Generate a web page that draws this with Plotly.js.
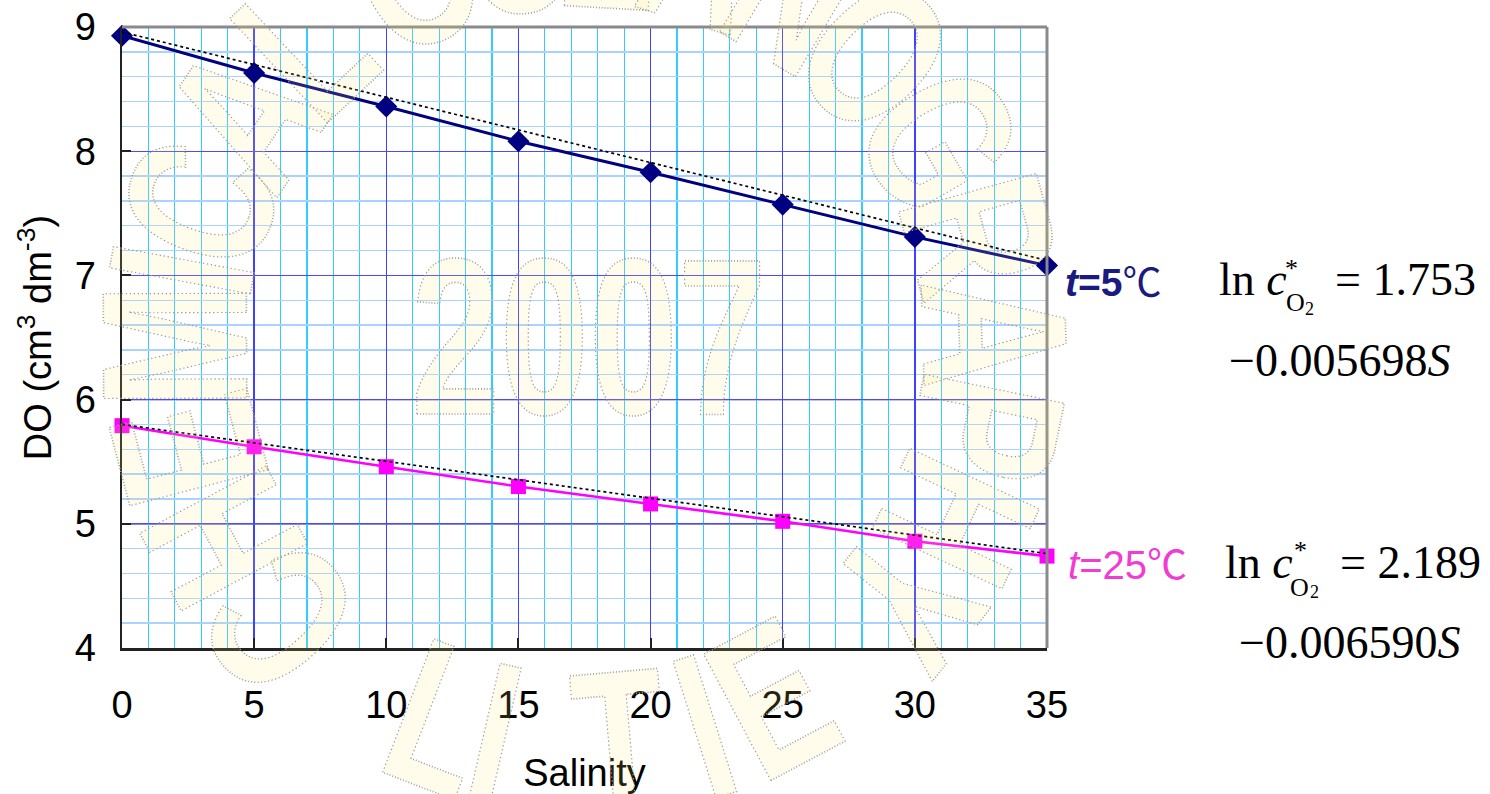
<!DOCTYPE html>
<html>
<head>
<meta charset="utf-8">
<script src="https://cdn.plot.ly/plotly-3.0.1.min.js"></script>
<style>
  html, body { margin: 0; padding: 0; background: #ffffff; }
  #chart { width: 1490px; height: 794px; }
</style>
</head>
<body>
<div id="chart"></div>
<script>
// Dissolved oxygen vs salinity at two temperatures
const salinity = [0, 5, 10, 15, 20, 25, 30, 35];
const doT5 = [8.93, 8.63, 8.36, 8.08, 7.83, 7.57, 7.31, 7.08];
const doT25 = [5.79, 5.62, 5.46, 5.30, 5.16, 5.02, 4.86, 4.74];

// straight trend lines through each series
const trendS = [0, 35];
const trendT5 = [8.96, 7.12];
const trendT25 = [5.80, 4.76];

const xTicks = [0, 5, 10, 15, 20, 25, 30, 35];
const yTicks = [4, 5, 6, 7, 8, 9];

// plot-area box in page pixels, used to place the free text
const L = 122, R = 1047, T = 27, B = 648;
const W = 1490, H = 794;
const px = X => (X - L) / (R - L);
const py = Y => (B - Y) / (B - T);

const traces = [
  {
    x: salinity, y: doT5, mode: 'lines+markers', cliponaxis: false,
    line: { color: '#000080', width: 3 },
    marker: { symbol: 'diamond', size: 17, color: '#000080' }
  },
  {
    x: salinity, y: doT25, mode: 'lines+markers', cliponaxis: false,
    line: { color: '#ff00ff', width: 2.6 },
    marker: { symbol: 'square', size: 15, color: '#ff00ff' }
  },
  {
    x: trendS, y: trendT5, mode: 'lines', cliponaxis: false,
    line: { color: '#000000', width: 1.7, dash: 'dot' }
  },
  {
    x: trendS, y: trendT25, mode: 'lines', cliponaxis: false,
    line: { color: '#000000', width: 1.7, dash: 'dot' }
  }
];

// faint "2007" seal with ring lettering laid over the plot
const sealFill = 'rgba(255,236,120,0.14)';
const sealEdge = 'stroke:#9b9b9b;stroke-width:1.6px;stroke-dasharray:1.3 2.7';
const sealFamily = 'Liberation Sans, Arial, sans-serif';
const sealSqueeze = 0.72;   // glyphs are drawn condensed
const sealCx = 585, sealCy = 345;
const ringLetters = ['C','H','E','M','I','C','A','L','O','C','E','A','N','O','G','R','A','P','H','Y'];
const ringAngles = [222, 208.1, 194.7, 180.2, 169.5, 159.9, 146, 133.2, 114.5, 100.1, 86.7, 73.3, 59.4, 45, 30, 15.6, 1.7, -11.7, -25.1, -38.5];
const baseLetters = ['L','I','T','I','E'];
const baseAngles = [249, 257, 275, 287.5, 298];

function norm(a) { a = ((a % 360) + 360) % 360; return a > 180 ? a - 360 : a; }
function sealLetter(ch, ang, r, outward) {
  const t = ang * Math.PI / 180;
  const X = sealCx + r * Math.cos(t), Y = sealCy - r * Math.sin(t);
  return {
    xref: 'paper', yref: 'paper', x: px(X), y: py(Y),
    xanchor: 'center', yanchor: 'middle', showarrow: false,
    textangle: norm(outward ? 90 - ang : -90 - ang),
    text: '<span style="' + sealEdge + '">' + ch + '</span>',
    font: { family: sealFamily, size: 208, color: sealFill, weight: 'bold' }
  };
}

const annotations = [];
annotations.push({
  xref: 'paper', yref: 'paper', x: px(589), y: py(337),
  xanchor: 'center', yanchor: 'middle', showarrow: false,
  text: '<span style="' + sealEdge + '">2007</span>',
  font: { family: sealFamily, size: 222, color: sealFill, weight: 'bold' }
});
ringLetters.forEach((c, i) => annotations.push(sealLetter(c, ringAngles[i], 410, true)));
baseLetters.forEach((c, i) => annotations.push(sealLetter(c, baseAngles[i], 400, false)));
const sealCount = annotations.length;

// series labels
const cjk = "font-family:'Noto Sans CJK SC';font-weight:normal";
function label(X, Y, text, font, anchor) {
  return { xref: 'paper', yref: 'paper', x: px(X), y: py(Y), xanchor: anchor || 'left', yanchor: 'middle',
           showarrow: false, text: text, font: font };
}
annotations.push(label(1063, 279, '<b><i>t</i>=5</b><span style="' + cjk + '">℃</span>',
  { family: 'Liberation Sans, Arial, sans-serif', size: 39, color: '#1a1a80' }));
annotations.push(label(1066, 562, '<i>t</i>=25<span style="' + cjk + '">℃</span>',
  { family: 'Liberation Sans, Arial, sans-serif', size: 40, color: '#f03cd2' }));

// fitted equations
const serif = 'Liberation Serif, Times New Roman, serif';
const eq = (X, Y, text, size, anchor) => label(X, Y, text, { family: serif, size: size, color: '#000000' }, anchor);
annotations.push(eq(1217, 279, 'ln <i>c</i>', 46));
annotations.push(eq(1291, 268, '*', 26, 'center'));
annotations.push(eq(1284, 302, 'O', 26));
annotations.push(eq(1303, 309, '2', 18));
annotations.push(eq(1333, 279, '= 1.753', 46));
annotations.push(eq(1227, 361, '\u22120.005698<i>S</i>', 46));

annotations.push(eq(1223, 562, 'ln <i>c</i>', 46));
annotations.push(eq(1300, 550, '*', 26, 'center'));
annotations.push(eq(1288, 587, 'O', 26));
annotations.push(eq(1308, 592, '2', 18));
annotations.push(eq(1338, 562, '= 2.189', 46));
annotations.push(eq(1237, 642, '\u22120.006590<i>S</i>', 46));

const tickFont = { family: 'Liberation Sans, Arial, sans-serif', size: 38, color: '#000000' };
const titleFont = { family: 'Liberation Sans, Arial, sans-serif', size: 38, color: '#000000' };

const layout = {
  width: W, height: H,
  margin: { l: L, r: W - R, t: T, b: H - B, pad: 0 },
  paper_bgcolor: '#ffffff', plot_bgcolor: '#ffffff',
  showlegend: false,
  xaxis: {
    range: [0, 35], tickmode: 'array', tickvals: xTicks, ticktext: xTicks.map(String),
    showgrid: true, gridcolor: '#4040ff', gridwidth: 1.3,
    minor: { dtick: 1, tick0: 0, showgrid: true, gridcolor: '#33ccff', gridwidth: 1.2, ticks: '' },
    zeroline: false, showline: true, linecolor: '#222222', linewidth: 2.5,
    ticks: 'inside', ticklen: 10, tickwidth: 2, tickcolor: '#222222',
    tickfont: tickFont, ticklabelstandoff: 22,
    title: { text: 'Salinity', font: titleFont, standoff: 36 },
    automargin: false, fixedrange: true
  },
  yaxis: {
    range: [4, 9], tickmode: 'array', tickvals: yTicks, ticktext: yTicks.map(String),
    showgrid: true, gridcolor: '#4a4aff', gridwidth: 1.3,
    minor: { dtick: 0.2, tick0: 4, showgrid: true, gridcolor: '#a8d2ff', gridwidth: 1.4, ticks: '' },
    zeroline: false, showline: true, linecolor: '#222222', linewidth: 2.5,
    ticks: 'inside', ticklen: 9, tickwidth: 2, tickcolor: '#222222',
    tickfont: tickFont, ticklabelstandoff: 16,
    title: { text: 'DO (cm<sup>3</sup> dm<sup>-3</sup>)', font: titleFont, standoff: 12 },
    automargin: false, fixedrange: true
  },
  shapes: [
    // darker rules at DO = 5 and 6
    { type: 'line', layer: 'between', xref: 'paper', yref: 'y', x0: 0, x1: 1, y0: 5, y1: 5, line: { color: '#141478', width: 1.3 } },
    { type: 'line', layer: 'between', xref: 'paper', yref: 'y', x0: 0, x1: 1, y0: 6, y1: 6, line: { color: '#141478', width: 1.3 } },
    // grey frame on the top and right
    { type: 'line', xref: 'paper', yref: 'paper', x0: 0, x1: 1, y0: 1, y1: 1, line: { color: '#8a8a8a', width: 3 } },
    { type: 'line', xref: 'paper', yref: 'paper', x0: 1, x1: 1, y0: 0, y1: 1, line: { color: '#8a8a8a', width: 3 } }
  ],
  annotations: annotations
};

Plotly.newPlot('chart', traces, layout, { displayModeBar: false, staticPlot: true }).then(gd => {
  // squeeze the seal glyphs horizontally about their own centres
  gd.querySelectorAll('g.annotation').forEach((g, i) => {
    const idx = g.hasAttribute('data-index') ? +g.getAttribute('data-index') : i;
    if (idx >= sealCount) return;
    const t = g.querySelector('text.annotation-text');
    if (!t) return;
    t.style.transformBox = 'fill-box';
    t.style.transformOrigin = 'center';
    t.style.transform = 'scaleX(' + sealSqueeze + ')';
  });
});
</script>
</body>
</html>
